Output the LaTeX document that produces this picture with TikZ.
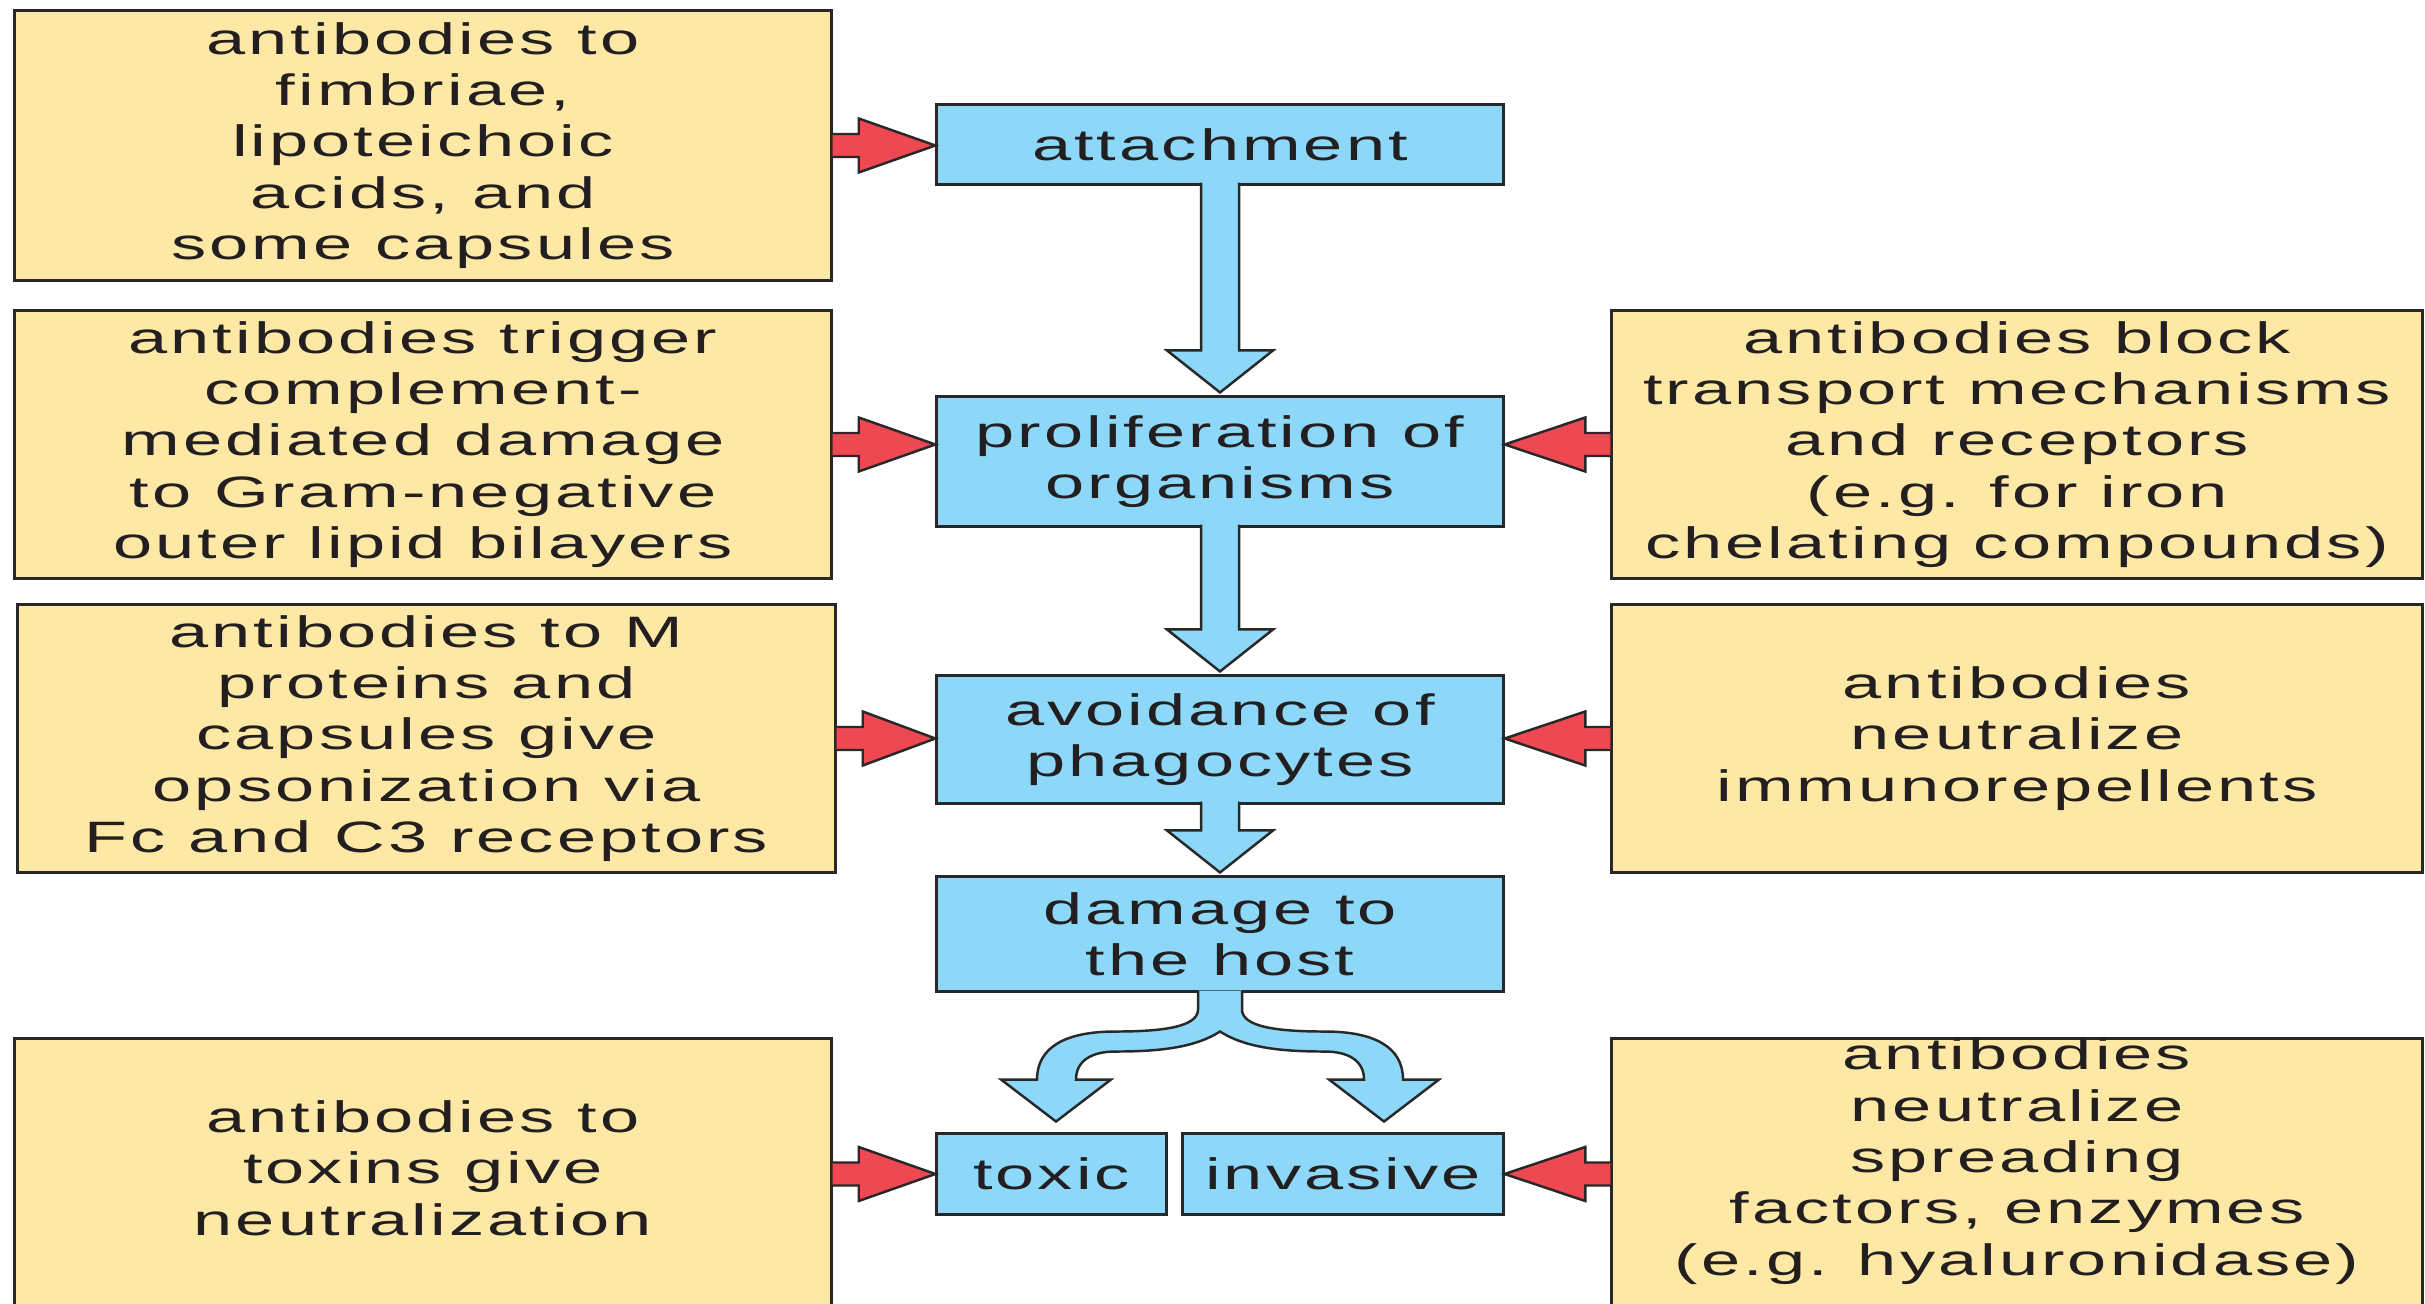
\documentclass[tikz,border=0pt]{standalone}
\usepackage{fontspec}
\setmainfont{Liberation Sans}[FakeStretch=1.6,LetterSpace=7]
\usetikzlibrary{calc}
\definecolor{yel}{RGB}{253,232,166}
\definecolor{blu}{RGB}{141,216,248}
\definecolor{redf}{RGB}{238,72,82}
\definecolor{edge}{RGB}{40,40,40}
\definecolor{txt}{RGB}{35,31,32}
\newcommand{\redR}[2]{\path #1 coordinate (tmpA); \filldraw[redarr] (tmpA) ++(0,-11.5) -- ++(26,0) -- ++(0,-15.5) -- (tmpA -| #2.west) -- ($(tmpA)+(26,27)$) -- ++(0,-15.5) -- ++(-26,0);}
\newcommand{\redL}[2]{\path #1 coordinate (tmpB); \filldraw[redarr] (tmpB) ++(0,-11.5) -- ++(-25,0) -- ++(0,-15.5) -- (tmpB -| #2.east) -- ($(tmpB)+(-25,27)$) -- ++(0,-15.5) -- ++(25,0);}
\newcommand{\bluedown}[2]{\filldraw[bluearr] ($(#1.south)+(-19,-3)$) -- ($(#2.north)+(-19,-45)$) -- ($(#2.north)+(-53,-45)$) -- ($(#2.north)+(0,-3)$) -- ($(#2.north)+(53,-45)$) -- ($(#2.north)+(19,-45)$) -- ($(#1.south)+(19,-3)$);}
\begin{document}
\begin{tikzpicture}[x=0.01cm,y=-0.01cm,font=\fontsize{12.5}{14.6}\selectfont,
  ybox/.style={draw=edge,fill=yel,line width=0.85pt,align=center,inner sep=0pt,text=txt},
  bbox/.style={draw=edge,fill=blu,line width=0.85pt,align=center,inner sep=0pt,text=txt},
  plain/.style={align=center,inner sep=0pt,text=txt},
  redarr/.style={fill=redf,draw=edge,line width=0.7pt,line join=miter},
  bluearr/.style={fill=blu,draw=edge,line width=0.7pt,line join=miter}]
\useasboundingbox (0,0) rectangle (2425,1304);
\clip (0,0) rectangle (2425,1304);
\fill[white] (0,0) rectangle (2425,1304);
% left boxes
\node[ybox,minimum width=8.16cm,minimum height=2.69cm] (l1) at (423,145.5) {antibodies to\\fimbriae,\\lipoteichoic\\acids, and\\some capsules};
\node[ybox,minimum width=8.16cm,minimum height=2.67cm] (l2) at (423,444.5) {antibodies trigger\\complement-\\mediated damage\\to Gram-negative\\outer lipid bilayers};
\node[ybox,minimum width=8.17cm,minimum height=2.67cm] (l3) at (426.5,738.5) {antibodies to M\\proteins and\\capsules give\\opsonization via\\Fc and C3 receptors};
\node[ybox,minimum width=8.16cm,minimum height=2.76cm] (l4) at (423,1177) {};
\node[plain] (l4t) at (423,1168) {antibodies to\\toxins give\\neutralization};
% right boxes
\node[ybox,minimum width=8.10cm,minimum height=2.67cm] (r1) at (2017,444.5) {antibodies block\\transport mechanisms\\and receptors\\(e.g. for iron\\chelating compounds)};
\node[ybox,minimum width=8.10cm,minimum height=2.67cm] (r2) at (2017,738.5) {antibodies\\neutralize\\immunorepellents};
\node[ybox,minimum width=8.10cm,minimum height=2.76cm] (r3) at (2017,1177) {};
\node[plain] (r3t) at (2017,1161) {antibodies\\neutralize\\spreading\\factors, enzymes\\(e.g. hyaluronidase)};
% blue boxes
\node[bbox,minimum width=5.66cm,minimum height=0.79cm] (att) at (1220,144.5) {attachment};
\node[bbox,minimum width=5.66cm,minimum height=1.29cm] (prol) at (1220,461.5) {proliferation of\\organisms};
\node[bbox,minimum width=5.66cm,minimum height=1.27cm] (avoid) at (1220,739.5) {avoidance of\\phagocytes};
\node[bbox,minimum width=5.66cm,minimum height=1.14cm] (dmg) at (1220,934) {damage to\\the host};
\node[bbox,minimum width=2.29cm,minimum height=0.80cm] (tox) at (1051.5,1174) {toxic};
\node[bbox,minimum width=3.20cm,minimum height=0.80cm] (inv) at (1343,1174) {invasive};
% blue arrows
\bluedown{att}{prol}
\bluedown{prol}{avoid}
\bluedown{avoid}{dmg}
\begin{scope}[shift={(dmg.south)}]
\filldraw[bluearr] (-22,-2) -- (-22,17) .. controls (-22,35) and (-60,39) .. (-105,39)
  .. controls (-155,39) and (-183,55) .. (-183,87) -- (-219,87) -- (-164,129) -- (-109,87) -- (-144,87)
  .. controls (-144,68) and (-128,59) .. (-105,59) .. controls (-60,59) and (-25,55) .. (0,39)
  .. controls (25,55) and (60,59) .. (105,59) .. controls (128,59) and (144,68) .. (144,87)
  -- (109,87) -- (164,129) -- (219,87) -- (183,87)
  .. controls (183,55) and (155,39) .. (105,39) .. controls (60,39) and (22,35) .. (22,17) -- (22,-2);
\end{scope}
% red arrows
\redR{(l1.east)}{att}
\redR{(l2.east)}{prol}
\redR{(l3.east)}{avoid}
\redR{(l4.east |- tox.west)}{tox}
\redL{(r1.west)}{prol}
\redL{(r2.west)}{avoid}
\redL{(r3.west |- inv.east)}{inv}
\end{tikzpicture}
\end{document}
